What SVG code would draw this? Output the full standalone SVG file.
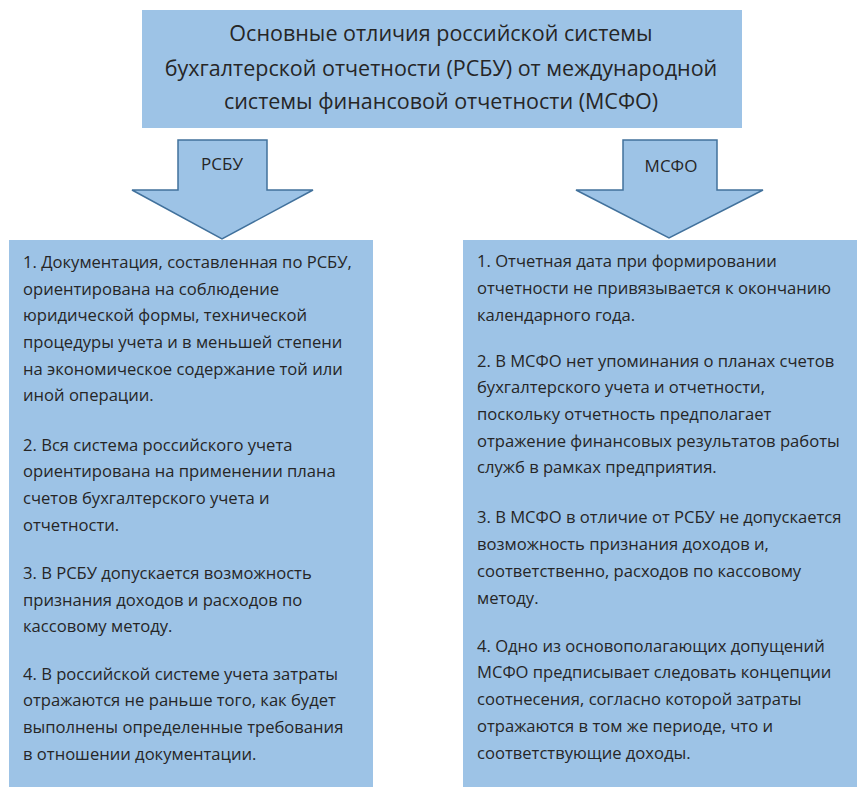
<svg xmlns="http://www.w3.org/2000/svg" width="857" height="788" viewBox="0 0 857 788">
<style>
.box{fill:#9DC3E6;}
.arrow{fill:#9DC3E6;stroke:#41719C;stroke-width:1.5;stroke-linejoin:miter;}
.t{font-family:"Open Sans","Liberation Sans",Arial,sans-serif;fill:#262626;}
.title{font-size:21.5px;text-anchor:middle;}
.body{font-size:16.6px;}
.lab{font-size:17px;text-anchor:middle;}
</style>
<rect width="857" height="788" fill="#FFFFFF"/>
<g id="title">
<rect class="box" x="142" y="10" width="600" height="118"/>
<text class="t title" x="441" y="41">Основные отличия российской системы</text>
<text class="t title" x="441" y="76">бухгалтерской отчетности (РСБУ) от международной</text>
<text class="t title" x="441" y="109">системы финансовой отчетности (МСФО)</text>
</g>
<g id="rsbu-box">
<rect class="box" x="9" y="240" width="364" height="547"/>
<text class="t body" x="23" y="268">1. Документация, составленная по РСБУ,</text>
<text class="t body" x="23" y="295">ориентирована на соблюдение</text>
<text class="t body" x="23" y="321">юридической формы, технической</text>
<text class="t body" x="23" y="348">процедуры учета и в меньшей степени</text>
<text class="t body" x="23" y="375">на экономическое содержание той или</text>
<text class="t body" x="23" y="401">иной операции.</text>
<text class="t body" x="23" y="451">2. Вся система российского учета</text>
<text class="t body" x="23" y="477">ориентирована на применении плана</text>
<text class="t body" x="23" y="504">счетов бухгалтерского учета и</text>
<text class="t body" x="23" y="531">отчетности.</text>
<text class="t body" x="23" y="579">3. В РСБУ допускается возможность</text>
<text class="t body" x="23" y="606">признания доходов и расходов по</text>
<text class="t body" x="23" y="632">кассовому методу.</text>
<text class="t body" x="23" y="680">4. В российской системе учета затраты</text>
<text class="t body" x="23" y="706">отражаются не раньше того, как будет</text>
<text class="t body" x="23" y="733">выполнены определенные требования</text>
<text class="t body" x="23" y="760">в отношении документации.</text>
</g>
<g id="msfo-box">
<rect class="box" x="463" y="240" width="394" height="547"/>
<text class="t body" x="477" y="267">1. Отчетная дата при формировании</text>
<text class="t body" x="477" y="294">отчетности не привязывается к окончанию</text>
<text class="t body" x="477" y="321">календарного года.</text>
<text class="t body" x="477" y="367">2. В МСФО нет упоминания о планах счетов</text>
<text class="t body" x="477" y="393">бухгалтерского учета и отчетности,</text>
<text class="t body" x="477" y="420">поскольку отчетность предполагает</text>
<text class="t body" x="477" y="447">отражение финансовых результатов работы</text>
<text class="t body" x="477" y="473">служб в рамках предприятия.</text>
<text class="t body" x="477" y="523">3. В МСФО в отличие от РСБУ не допускается</text>
<text class="t body" x="477" y="550">возможность признания доходов и,</text>
<text class="t body" x="477" y="577">соответственно, расходов по кассовому</text>
<text class="t body" x="477" y="604">методу.</text>
<text class="t body" x="477" y="652">4. Одно из основополагающих допущений</text>
<text class="t body" x="477" y="678">МСФО предписывает следовать концепции</text>
<text class="t body" x="477" y="705">соотнесения, согласно которой затраты</text>
<text class="t body" x="477" y="732">отражаются в том же периоде, что и</text>
<text class="t body" x="477" y="759">соответствующие доходы.</text>
</g>
<g id="connectors">
<g id="arrow-rsbu">
<polygon class="arrow" points="178,140 267,140 267,190 313,190 222,239 132,190 178,190"/>
<text class="t lab" x="222" y="170">РСБУ</text>
</g>
<g id="arrow-msfo">
<polygon class="arrow" points="623,140 717,140 717,190 763,190 669,238 576,190 623,190"/>
<text class="t lab" x="671" y="172">МСФО</text>
</g>
</g>
</svg>
